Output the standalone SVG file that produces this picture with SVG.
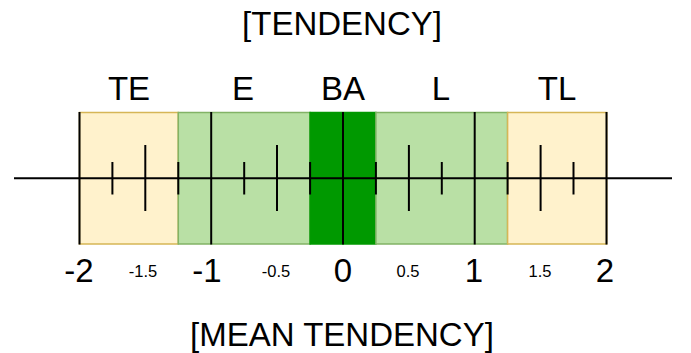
<svg xmlns="http://www.w3.org/2000/svg" width="691" height="353" viewBox="0 0 691 353">
<style>
text{font-family:"Liberation Sans",Arial,sans-serif;fill:#000;text-anchor:middle}
.h{font-size:33px}
.b{font-size:33px}
.s{font-size:16.5px}
.tl{fill:#fff2cc;stroke:#d6b656;stroke-width:1.5}
.lg{fill:#b9e0a5;stroke:#82b366;stroke-width:1.5}
.dg{fill:#009900;stroke:#009900;stroke-width:1.5}
.ln{stroke:#000;stroke-width:2;fill:none}
</style>
<rect width="691" height="353" fill="#fff"/>
<g id="zone-TE"><rect class="tl" x="79.5" y="112.5" width="98.8" height="131.5"/><text class="h" x="129" y="100">TE</text></g>
<g id="zone-E"><rect class="lg" x="178.3" y="112.5" width="131.8" height="131.5"/><text class="h" x="243" y="100">E</text></g>
<g id="zone-BA"><rect class="dg" x="310.1" y="112.5" width="65.8" height="131.5"/><text class="h" x="343" y="100">BA</text></g>
<g id="zone-L"><rect class="lg" x="375.9" y="112.5" width="131.7" height="131.5"/><text class="h" x="441" y="100">L</text></g>
<g id="zone-TL"><rect class="tl" x="507.6" y="112.5" width="99.1" height="131.5"/><text class="h" x="557" y="100">TL</text></g>
<g id="axis" class="ln">
<line x1="14" y1="178.3" x2="672" y2="178.3"/>
<line x1="79.5" y1="112" x2="79.5" y2="244.5"/>
<line x1="211.2" y1="112" x2="211.2" y2="244.5"/>
<line x1="343" y1="112" x2="343" y2="244.5"/>
<line x1="474.7" y1="112" x2="474.7" y2="244.5"/>
<line x1="606.5" y1="112" x2="606.5" y2="244.5"/>
<line x1="145.3" y1="145" x2="145.3" y2="211"/>
<line x1="277" y1="145" x2="277" y2="211"/>
<line x1="408.9" y1="145" x2="408.9" y2="211"/>
<line x1="540.6" y1="145" x2="540.6" y2="211"/>
<line x1="112.4" y1="162" x2="112.4" y2="194.5"/>
<line x1="178.3" y1="162" x2="178.3" y2="194.5"/>
<line x1="244.2" y1="162" x2="244.2" y2="194.5"/>
<line x1="310.1" y1="162" x2="310.1" y2="194.5"/>
<line x1="375.9" y1="162" x2="375.9" y2="194.5"/>
<line x1="441.8" y1="162" x2="441.8" y2="194.5"/>
<line x1="507.6" y1="162" x2="507.6" y2="194.5"/>
<line x1="573.5" y1="162" x2="573.5" y2="194.5"/>
</g>
<g id="scale">
<text class="b" x="79" y="282">-2</text>
<text class="s" x="143" y="277">-1.5</text>
<text class="b" x="207" y="282">-1</text>
<text class="s" x="276" y="277">-0.5</text>
<text class="b" x="343" y="282">0</text>
<text class="s" x="408" y="277">0.5</text>
<text class="b" x="474" y="282">1</text>
<text class="s" x="540" y="277">1.5</text>
<text class="b" x="605" y="282">2</text>
</g>
<text class="h" x="342" y="35">[TENDENCY]</text>
<text class="h" x="342" y="346">[MEAN TENDENCY]</text>
</svg>
